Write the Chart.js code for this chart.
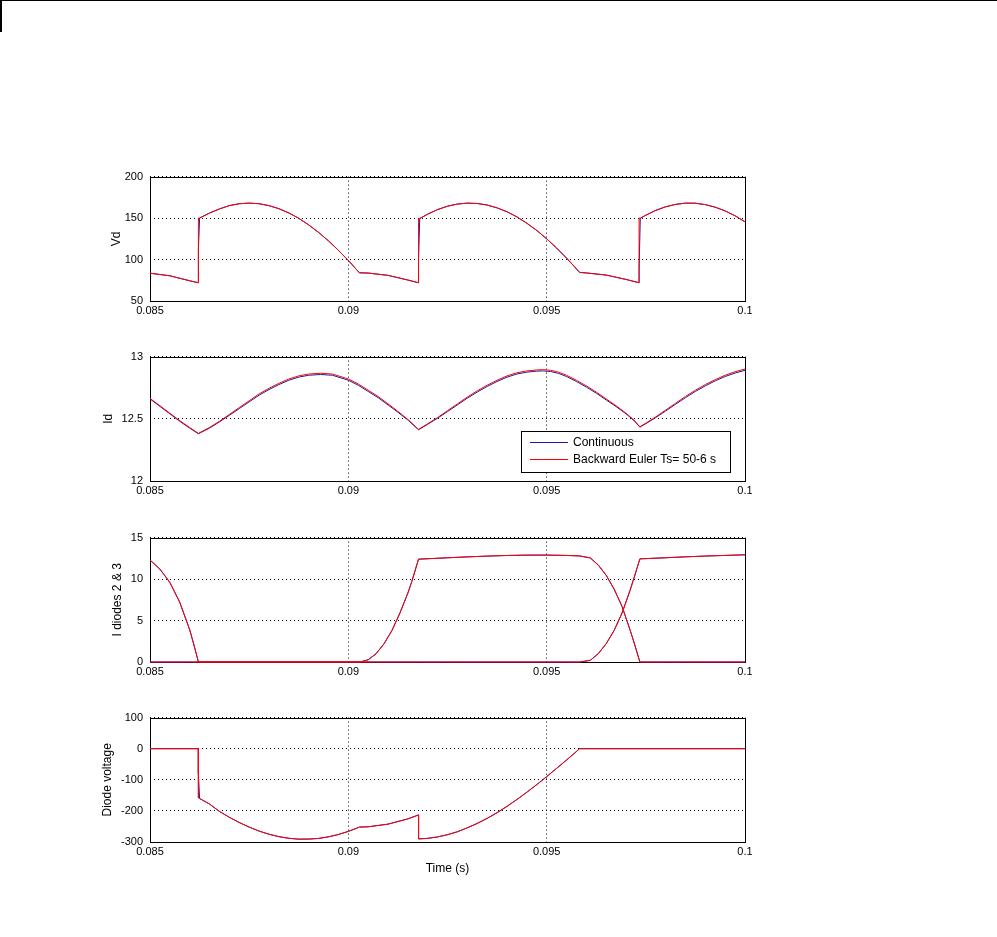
<!DOCTYPE html>
<html>
<head>
<meta charset="utf-8">
<script src="https://cdn.jsdelivr.net/npm/chart.js@4.4.1/dist/chart.umd.min.js"></script>
<style>
  html, body { margin: 0; padding: 0; background: #fff; }
  body { width: 997px; height: 937px; position: relative; overflow: hidden; }
  .frame-top { position: absolute; left: 0; top: 0; width: 997px; height: 1px; background: #000; }
  .frame-left { position: absolute; left: 0; top: 0; width: 2px; height: 32px; background: #000; }
  canvas { position: absolute; left: 0; }
</style>
</head>
<body>
<div class="frame-top"></div>
<div class="frame-left"></div>
<canvas id="vd" width="997" height="166" style="top:163px"></canvas>
<canvas id="id" width="997" height="166" style="top:343px"></canvas>
<canvas id="idiodes" width="997" height="166" style="top:524px"></canvas>
<canvas id="vdiode" width="997" height="176" style="top:704px"></canvas>
<script>
// time axis
var xTicks = [0.085, 0.09, 0.095, 0.1];
var xTickLabels = ["0.085", "0.09", "0.095", "0.1"];
var seriesLabels = ["Continuous", "Backward Euler Ts= 50-6 s"];

// Vd
var vdTicks = [50, 100, 150, 200];
var vdTime = [0.085, 0.0855, 0.086, 0.08622, 0.08622, 0.08625, 0.0865, 0.08675, 0.087, 0.08725,
  0.0875, 0.08775, 0.088, 0.08825, 0.0885, 0.08875, 0.089, 0.08925, 0.0895, 0.08975,
  0.09, 0.0901, 0.0902, 0.09028, 0.0905, 0.091, 0.0915, 0.09177, 0.09177, 0.0918,
  0.092, 0.09225, 0.0925, 0.09275, 0.093, 0.09325, 0.0935, 0.09375, 0.094, 0.09425,
  0.0945, 0.09475, 0.095, 0.09525, 0.0955, 0.0957, 0.09583, 0.096, 0.0965, 0.097,
  0.09733, 0.09733, 0.09736, 0.0975, 0.09775, 0.098, 0.09825, 0.0985, 0.09875, 0.099,
  0.09925, 0.0995, 0.09975, 0.1];
var vdEuler = [83.5, 80.4, 74.4, 72, 150, 150, 156, 161, 165, 167.3,
  168, 167.3, 165, 161.3, 156.2, 149.7, 141.8, 132.7, 122.5, 111.1,
  98.8, 93.6, 88.2, 84, 83.7, 80.9, 75.3, 72, 150, 149.4,
  154.7, 160.2, 164.3, 166.9, 168, 167.6, 165.7, 162.3, 157.6, 151.4,
  143.8, 135.1, 125, 113.9, 101.8, 91.4, 84.5, 83.8, 81.3, 76,
  72, 150, 149.7, 153.5, 159.3, 163.6, 166.5, 168, 167.9, 166.2,
  163.1, 158.6, 152.7, 145.5];
var vdCont = [83.5, 80.4, 74.4, 72, 112, 150, 156, 161, 165, 167.3,
  168, 167.3, 165, 161.3, 156.2, 149.7, 141.8, 132.7, 122.5, 111.1,
  98.8, 93.6, 88.2, 84, 83.7, 80.9, 75.3, 72, 100, 149.4,
  154.7, 160.2, 164.3, 166.9, 168, 167.6, 165.7, 162.3, 157.6, 151.4,
  143.8, 135.1, 125, 113.9, 101.8, 91.4, 84.5, 83.8, 81.3, 76,
  72, 88, 149.7, 153.5, 159.3, 163.6, 166.5, 168, 167.9, 166.2,
  163.1, 158.6, 152.7, 145.5];

// Id
var idTicks = [12, 12.5, 13];
var idTime = [0.085, 0.08525, 0.0855, 0.08575, 0.086, 0.08622, 0.0865, 0.08675, 0.087, 0.08725,
  0.0875, 0.08775, 0.088, 0.08825, 0.0885, 0.08875, 0.089, 0.0893, 0.0896, 0.09,
  0.09025, 0.0905, 0.09075, 0.091, 0.09125, 0.0915, 0.09177, 0.092, 0.09225, 0.0925,
  0.09275, 0.093, 0.09325, 0.0935, 0.09375, 0.094, 0.09425, 0.0945, 0.09475, 0.0949,
  0.0951, 0.0953, 0.0955, 0.09575, 0.096, 0.09625, 0.0965, 0.09675, 0.097, 0.0972,
  0.09735, 0.0975, 0.09775, 0.098, 0.09825, 0.0985, 0.09875, 0.099, 0.09925, 0.0995,
  0.09975, 0.1];
var idEuler = [12.664, 12.605, 12.545, 12.485, 12.43, 12.383, 12.43, 12.48, 12.535, 12.59,
  12.645, 12.7, 12.745, 12.785, 12.82, 12.845, 12.86, 12.866, 12.86, 12.82,
  12.78, 12.73, 12.68, 12.62, 12.56, 12.495, 12.415, 12.46, 12.51, 12.565,
  12.62, 12.675, 12.725, 12.77, 12.81, 12.845, 12.87, 12.885, 12.893, 12.895,
  12.89, 12.875, 12.85, 12.81, 12.765, 12.715, 12.66, 12.605, 12.545, 12.49,
  12.436, 12.465, 12.515, 12.57, 12.625, 12.68, 12.73, 12.775, 12.815, 12.85,
  12.878, 12.9];
var idCont = [12.66, 12.6, 12.54, 12.48, 12.425, 12.38, 12.425, 12.475, 12.528, 12.582,
  12.636, 12.69, 12.735, 12.775, 12.81, 12.835, 12.85, 12.856, 12.85, 12.81,
  12.77, 12.72, 12.67, 12.612, 12.553, 12.49, 12.412, 12.456, 12.505, 12.558,
  12.612, 12.666, 12.715, 12.76, 12.8, 12.835, 12.86, 12.875, 12.883, 12.885,
  12.88, 12.865, 12.84, 12.8, 12.755, 12.706, 12.652, 12.598, 12.54, 12.486,
  12.433, 12.461, 12.51, 12.563, 12.617, 12.67, 12.72, 12.765, 12.805, 12.84,
  12.868, 12.89];

// I diodes 2 & 3
var diodeTicks = [0, 5, 10, 15];
var diodeTime = [0.085, 0.08525, 0.0855, 0.08575, 0.086, 0.0861, 0.08622, 0.0903, 0.0905, 0.0907,
  0.0909, 0.0911, 0.0913, 0.0915, 0.0916, 0.09177, 0.0925, 0.093, 0.0935, 0.094,
  0.0945, 0.095, 0.0955, 0.09583, 0.0961, 0.0963, 0.0965, 0.0967, 0.0969, 0.0971,
  0.0972, 0.09735, 0.0975, 0.098, 0.0985, 0.099, 0.0995, 0.1];
var diode3 = [12.3, 11.2, 9.6, 7.2, 3.9, 2.2, 0, 0, 0, 0,
  0, 0, 0, 0, 0, 0, 0, 0, 0, 0,
  0, 0, 0, 0, 0.2, 1.0, 2.2, 3.8, 5.9, 8.6,
  10.1, 12.44, 12.465, 12.57, 12.68, 12.775, 12.85, 12.93];
var diode2 = [0, 0, 0, 0, 0, 0, 0, 0, 0.27, 1.0,
  2.2, 3.8, 5.9, 8.3, 9.7, 12.4, 12.565, 12.675, 12.77, 12.845,
  12.885, 12.89, 12.85, 12.79, 12.55, 11.7, 10.46, 8.8, 6.7, 3.9,
  2.4, 0, 0, 0, 0, 0, 0, 0];

// Diode voltage
var vDiodeTicks = [-300, -200, -100, 0, 100];
var vDiodeTime = [0.085, 0.08622, 0.08622, 0.08625, 0.0865, 0.08675, 0.087, 0.08725, 0.0875, 0.08775,
  0.088, 0.08825, 0.0885, 0.08875, 0.089, 0.08925, 0.0895, 0.08975, 0.09, 0.0902,
  0.09028, 0.0905, 0.091, 0.0915, 0.09177, 0.09177, 0.092, 0.09225, 0.0925, 0.09275,
  0.093, 0.09325, 0.0935, 0.09375, 0.094, 0.09425, 0.0945, 0.09475, 0.095, 0.09525,
  0.0955, 0.0957, 0.09583, 0.1];
var vDiodeEuler = [0, 0, -158, -160, -178, -201.6, -220.6, -237.4, -252, -264.9,
  -275, -282.9, -288, -290.9, -290.6, -288.5, -283.4, -275.8, -265.9, -256.2,
  -252, -251.1, -242.6, -225.7, -213, -290, -288.3, -283.7, -276.6, -267,
  -254.3, -240.2, -224, -205.7, -185.5, -163.4, -140, -115.6, -89.8, -63.3,
  -36.5, -14.5, 0, 0];
var vDiodeCont = [0, 0, -80, -160, -178, -201.6, -220.6, -237.4, -252, -264.9,
  -275, -282.9, -288, -290.9, -290.6, -288.5, -283.4, -275.8, -265.9, -256.2,
  -252, -251.1, -242.6, -225.7, -213, -290, -288.3, -283.7, -276.6, -267,
  -254.3, -240.2, -224, -205.7, -185.5, -163.4, -140, -115.6, -89.8, -63.3,
  -36.5, -14.5, 0, 0];

var BLUE = "#1a1aa0";
var RED = "#ff0000";
var FAMILY = "'Liberation Sans', Arial, sans-serif";
var tickFont = { family: FAMILY, size: 11 };
var labelFont = { family: FAMILY, size: 12 };

function series(label, xs, ys, color, order) {
  return {
    label: label,
    data: xs.map(function (x, i) { return { x: x, y: ys[i] }; }),
    borderColor: color,
    backgroundColor: color,
    borderWidth: 1,
    pointRadius: 0,
    tension: 0,
    fill: false,
    order: order,
    clip: false
  };
}

// matlab style axes box, drawn under the lines
var boxPlugin = {
  id: "axesBox",
  beforeDatasetsDraw: function (chart) {
    var a = chart.chartArea, c = chart.ctx;
    c.save();
    c.strokeStyle = "#000";
    c.lineWidth = 1;
    c.strokeRect(Math.round(a.left) + 0.5, Math.round(a.top) + 0.5,
      Math.round(a.right - a.left), Math.round(a.bottom - a.top));
    c.restore();
  }
};

var legendPlugin = {
  id: "boxLegend",
  afterDraw: function (chart) {
    var a = chart.chartArea, c = chart.ctx;
    var w = 209, h = 41;
    var x0 = Math.round(a.right) - 15 - w, y0 = Math.round(a.bottom) - 9 - h;
    c.save();
    c.fillStyle = "#fff";
    c.fillRect(x0, y0, w, h);
    c.strokeStyle = "#000";
    c.lineWidth = 1;
    c.strokeRect(x0 + 0.5, y0 + 0.5, w, h);
    c.font = "12px " + FAMILY;
    c.textBaseline = "middle";
    chart.data.datasets.forEach(function (ds, i) {
      var y = y0 + 11.5 + i * 17;
      c.strokeStyle = ds.borderColor;
      c.beginPath();
      c.moveTo(x0 + 9, y);
      c.lineTo(x0 + 47, y);
      c.stroke();
      c.fillStyle = "#000";
      c.fillText(ds.label, x0 + 52, y + 0.5);
    });
    c.restore();
  }
};

function drawPanel(id, p) {
  var plugins = [boxPlugin];
  if (p.legend) plugins.push(legendPlugin);
  return new Chart(document.getElementById(id), {
    type: "line",
    data: { datasets: p.datasets },
    options: {
      responsive: false,
      animation: false,
      events: [],
      layout: { padding: { left: p.padLeft, right: 252, top: 10, bottom: 0 } },
      plugins: { legend: { display: false }, tooltip: { enabled: false } },
      scales: {
        x: {
          type: "linear",
          min: 0.085,
          max: 0.1,
          afterBuildTicks: function (axis) {
            axis.ticks = xTicks.map(function (v) { return { value: v }; });
          },
          afterFit: function (axis) { axis.height = p.xHeight; },
          ticks: {
            callback: function (v) { return xTickLabels[xTicks.indexOf(v)]; },
            maxRotation: 0,
            autoSkip: false,
            padding: 3,
            color: "#000",
            font: tickFont
          },
          grid: { color: "#000", drawTicks: false },
          border: { display: false, dash: [1, 3] },
          title: {
            display: !!p.xTitle,
            text: p.xTitle || "",
            color: "#000",
            font: labelFont,
            padding: { top: 0, bottom: 4 }
          }
        },
        y: {
          min: p.yTicks[0],
          max: p.yTicks[p.yTicks.length - 1],
          afterBuildTicks: function (axis) {
            axis.ticks = p.yTicks.map(function (v) { return { value: v }; });
          },
          afterFit: function (axis) { axis.width = 150 - p.padLeft; },
          ticks: {
            callback: function (v) { return String(v); },
            padding: 7,
            color: "#000",
            font: tickFont
          },
          grid: { color: "#000", drawTicks: false },
          border: { display: false, dash: [1, 3] },
          title: {
            display: true,
            text: p.yTitle,
            color: "#000",
            font: labelFont,
            padding: { top: 4, bottom: 0 }
          }
        }
      }
    },
    plugins: plugins
  });
}

drawPanel("vd", {
  padLeft: 105, xHeight: 28, yTicks: vdTicks, yTitle: "Vd",
  datasets: [
    series(seriesLabels[0], vdTime, vdCont, BLUE, 1),
    series(seriesLabels[1], vdTime, vdEuler, RED, 0)
  ]
});

drawPanel("id", {
  padLeft: 97, xHeight: 28, yTicks: idTicks, yTitle: "Id", legend: true,
  datasets: [
    series(seriesLabels[0], idTime, idCont, BLUE, 1),
    series(seriesLabels[1], idTime, idEuler, RED, 0)
  ]
});

drawPanel("idiodes", {
  padLeft: 106, xHeight: 28, yTicks: diodeTicks, yTitle: "I diodes 2 & 3",
  datasets: [
    series(seriesLabels[0], diodeTime, diode2, BLUE, 3),
    series(seriesLabels[0], diodeTime, diode3, BLUE, 2),
    series(seriesLabels[1], diodeTime, diode2, RED, 1),
    series(seriesLabels[1], diodeTime, diode3, RED, 0)
  ]
});

drawPanel("vdiode", {
  padLeft: 96, xHeight: 38, yTicks: vDiodeTicks, yTitle: "Diode voltage", xTitle: "Time (s)",
  datasets: [
    series(seriesLabels[0], vDiodeTime, vDiodeCont, BLUE, 1),
    series(seriesLabels[1], vDiodeTime, vDiodeEuler, RED, 0)
  ]
});
</script>
</body>
</html>
